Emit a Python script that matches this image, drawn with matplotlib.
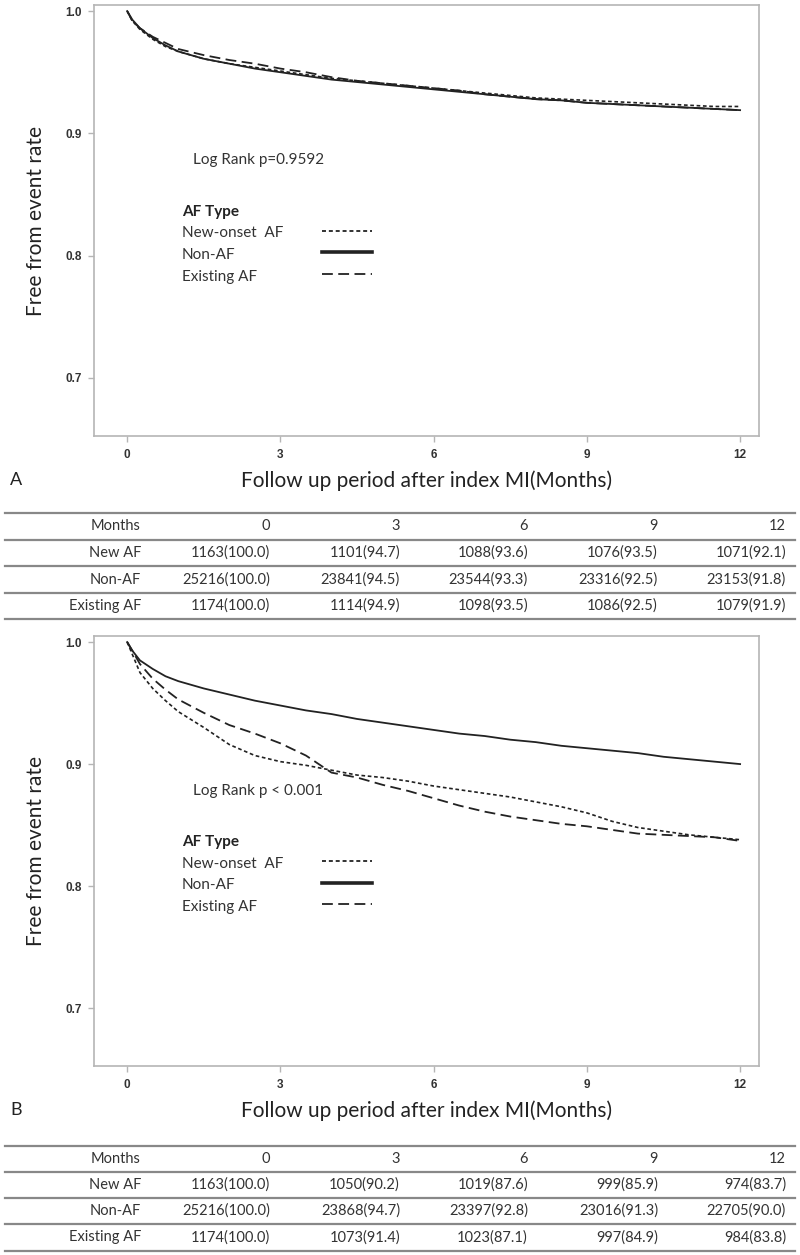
import matplotlib
matplotlib.use("Agg")
import matplotlib.pyplot as plt
from matplotlib.lines import Line2D

# Kaplan-Meier curves (months, survival)
months_a = [0, 0.1, 0.25, 0.5, 0.75, 1, 1.5, 2, 2.5, 3, 3.5, 4, 4.5, 5, 5.5, 6,
            6.5, 7, 7.5, 8, 8.5, 9, 9.5, 10, 10.5, 11, 11.5, 12]
new_af_a = [1.0, 0.992, 0.985, 0.977, 0.971, 0.967, 0.961, 0.957, 0.954, 0.951, 0.948, 0.945,
            0.943, 0.941, 0.939, 0.937, 0.935, 0.933, 0.931, 0.929, 0.928, 0.927, 0.926,
            0.925, 0.924, 0.923, 0.922, 0.922]
non_af_a = [1.0, 0.993, 0.986, 0.978, 0.972, 0.967, 0.961, 0.957, 0.953, 0.950, 0.947, 0.944,
            0.942, 0.940, 0.938, 0.936, 0.934, 0.932, 0.930, 0.928, 0.927, 0.925, 0.924,
            0.923, 0.922, 0.921, 0.920, 0.919]
exist_af_a = [1.0, 0.992, 0.986, 0.979, 0.974, 0.969, 0.964, 0.960, 0.957, 0.953, 0.950, 0.946,
              0.943, 0.941, 0.939, 0.937, 0.935, 0.932, 0.930, 0.928, 0.927, 0.925, 0.924,
              0.923, 0.922, 0.921, 0.920, 0.919]

months_b = months_a
new_af_b = [1.0, 0.99, 0.975, 0.962, 0.952, 0.943, 0.930, 0.916, 0.907, 0.902, 0.899, 0.895,
            0.891, 0.889, 0.886, 0.882, 0.879, 0.876, 0.873, 0.869, 0.865, 0.860, 0.853,
            0.848, 0.845, 0.842, 0.840, 0.838]
non_af_b = [1.0, 0.993, 0.985, 0.978, 0.972, 0.968, 0.962, 0.957, 0.952, 0.948, 0.944, 0.941,
            0.937, 0.934, 0.931, 0.928, 0.925, 0.923, 0.920, 0.918, 0.915, 0.913, 0.911,
            0.909, 0.906, 0.904, 0.902, 0.900]
exist_af_b = [1.0, 0.993, 0.982, 0.970, 0.961, 0.953, 0.942, 0.932, 0.925, 0.917, 0.907, 0.893,
              0.889, 0.883, 0.878, 0.872, 0.866, 0.861, 0.857, 0.854, 0.851, 0.849, 0.846,
              0.843, 0.842, 0.841, 0.840, 0.837]

series_labels = ["New-onset  AF", "Non-AF", "Existing AF"]
pvalue_text = ["Log Rank p=0.9592", "Log Rank p < 0.001"]

# numbers at risk tables
table_header = ["Months", "0", "3", "6", "9", "12"]
row_names = ["New AF", "Non-AF", "Existing AF"]
table_a = [
    ["1163(100.0)", "1101(94.7)", "1088(93.6)", "1076(93.5)", "1071(92.1)"],
    ["25216(100.0)", "23841(94.5)", "23544(93.3)", "23316(92.5)", "23153(91.8)"],
    ["1174(100.0)", "1114(94.9)", "1098(93.5)", "1086(92.5)", "1079(91.9)"],
]
table_b = [
    ["1163(100.0)", "1050(90.2)", "1019(87.6)", "999(85.9)", "974(83.7)"],
    ["25216(100.0)", "23868(94.7)", "23397(92.8)", "23016(91.3)", "22705(90.0)"],
    ["1174(100.0)", "1073(91.4)", "1023(87.1)", "997(84.9)", "984(83.8)"],
]

TEXT_FONT = ["Lato", "DejaVu Sans"]
TICK_FONT = ["Liberation Sans", "DejaVu Sans"]
INK = "#222222"
styles = [dict(ls=(0, (2.2, 1.6)), lw=1.2), dict(ls="-", lw=1.3), dict(ls=(0, (6, 3)), lw=1.3)]
key_lw = [1.3, 2.6, 1.3]

W, H = 800, 1255
fig = plt.figure(figsize=(W / 100, H / 100), dpi=100)


def px(x, y):
    return x / W, 1 - y / H


def km_panel(top, bottom, curves, ptext, letter):
    ax = fig.add_axes([94 / W, 1 - bottom / H, 665 / W, (bottom - top) / H])
    for (t, s), st in zip(curves, styles):
        ax.plot(t, s, color=INK, **st)
    ax.set_xlim(-0.65, 12.37)
    ax.set_ylim(0.6525, 1.005)
    ax.set_xticks([0, 3, 6, 9, 12])
    ax.set_yticks([0.7, 0.8, 0.9, 1.0])
    ax.set_yticklabels(["0.7", "0.8", "0.9", "1.0"])
    for sp in ax.spines.values():
        sp.set_color("#b5b5b5")
        sp.set_linewidth(1.2)
    ax.tick_params(direction="out", length=4, width=1, color="#b5b5b5", pad=5)
    for lab in ax.get_xticklabels() + ax.get_yticklabels():
        lab.set_fontfamily(TICK_FONT)
        lab.set_fontweight("bold")
        lab.set_fontsize(8.5)
        lab.set_color("#333333")
    ax.set_ylabel("Free from event rate", family=TEXT_FONT, fontsize=15, color=INK, labelpad=14)
    ax.set_xlabel("Follow up period after index MI(Months)", family=TEXT_FONT, fontsize=15,
                  color=INK, labelpad=7)

    # p value and legend block
    ax.text(0.149, 0.64, ptext, transform=ax.transAxes, family=TEXT_FONT, fontsize=11,
            color="#333333", va="center")
    ax.text(0.132, 0.52, "AF Type", transform=ax.transAxes, family=TEXT_FONT, fontsize=11,
            fontweight="bold", color=INK, va="center")
    ys = [0.470, 0.420, 0.370]
    for lab, y, st, klw in zip(series_labels, ys, styles, key_lw):
        ax.text(0.132, y, lab, transform=ax.transAxes, family=TEXT_FONT, fontsize=11,
                color="#333333", va="center")
        ax.add_line(Line2D([0.343, 0.418], [y + 0.006, y + 0.006], transform=ax.transAxes,
                           color=INK, ls=st["ls"], lw=klw))
    fig.text(*px(10, bottom + 44), letter, family=TEXT_FONT, fontsize=13, color=INK, va="center")
    return ax


def risk_table(lines_y, rows):
    for y in lines_y:
        fig.add_artist(Line2D([5 / W, 795 / W], [1 - y / H, 1 - y / H], color="#888888", lw=1.6))
    col_x = [141, 270, 400, 528, 658, 786]
    centers = [(a + b) / 2 for a, b in zip(lines_y[:-1], lines_y[1:])]
    all_rows = [table_header] + [[n] + r for n, r in zip(row_names, rows)]
    for yc, row in zip(centers, all_rows):
        for x, cell in zip(col_x, row):
            fig.text(*px(x, yc), cell, family=TEXT_FONT, fontsize=10.5, color="#333333",
                     ha="right", va="center")


km_panel(5, 436, [(months_a, new_af_a), (months_a, non_af_a), (months_a, exist_af_a)],
         pvalue_text[0], "A")
risk_table([513, 540, 566, 593, 619], table_a)
km_panel(636, 1066, [(months_b, new_af_b), (months_b, non_af_b), (months_b, exist_af_b)],
         pvalue_text[1], "B")
risk_table([1146, 1172, 1198, 1224, 1251], table_b)

fig.savefig("out.png", dpi=100, facecolor="white")
